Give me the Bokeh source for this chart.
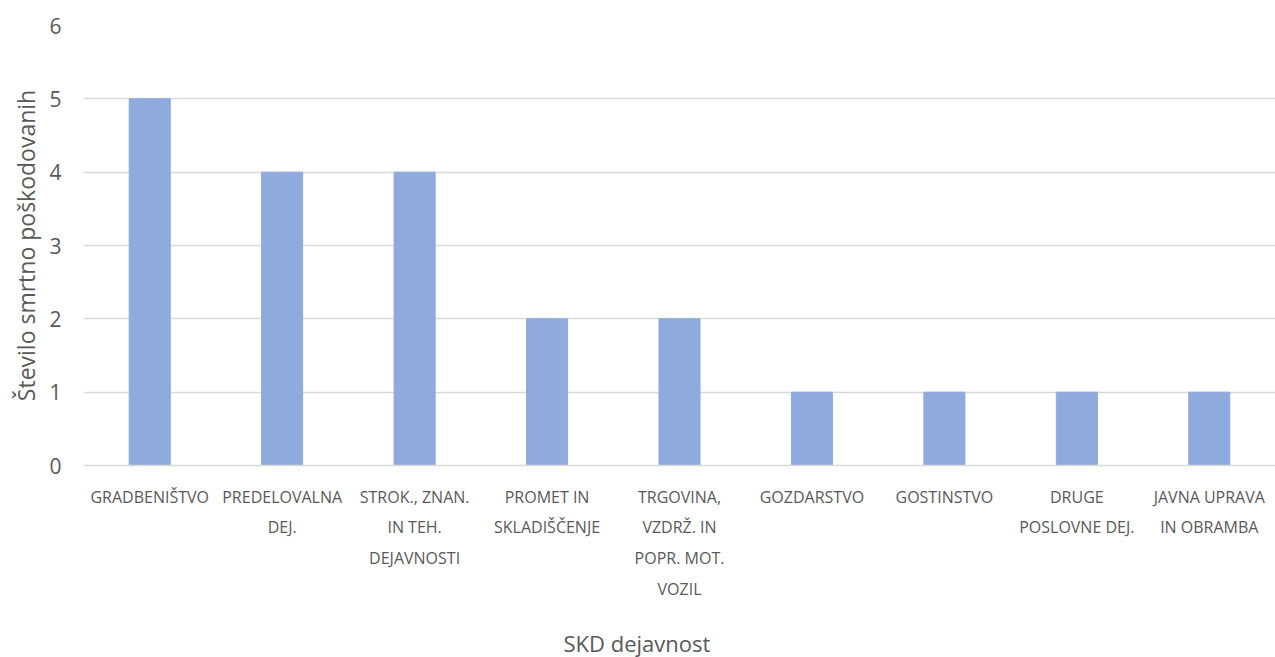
from bokeh.plotting import figure
from bokeh.models import Title, FixedTicker
from bokeh.embed import file_html
from bokeh.resources import INLINE

categories = ["GRADBENIŠTVO", "PREDELOVALNA\nDEJ.", "STROK., ZNAN.\nIN TEH.\nDEJAVNOSTI",
              "PROMET IN\nSKLADIŠČENJE", "TRGOVINA,\nVZDRŽ. IN\nPOPR. MOT.\nVOZIL",
              "GOZDARSTVO", "GOSTINSTVO", "DRUGE\nPOSLOVNE DEJ.", "JAVNA UPRAVA\nIN OBRAMBA"]
values = [5, 4, 4, 2, 2, 1, 1, 1, 1]
y_ticks = [0, 1, 2, 3, 4, 5, 6]

GREY = "#595959"
FONT = "Open Sans"

p = figure(x_range=categories, y_range=(0, 6), width=1275, height=657,
           output_backend="svg", toolbar_location=None,
           min_border_left=83, min_border_right=0, min_border_top=25, min_border_bottom=192)
p.outline_line_color = None
p.vbar(x=categories, top=values, width=0.31, color="#8FAADC")

p.xgrid.grid_line_color = None
p.ygrid.grid_line_color = "#D9D9D9"
p.ygrid.grid_line_width = 1.3
p.yaxis.ticker = FixedTicker(ticks=y_ticks)
p.yaxis.axis_line_color = None
p.yaxis.major_tick_line_color = None
p.yaxis.minor_tick_line_color = None
p.yaxis.major_label_text_font = FONT
p.yaxis.major_label_text_font_size = "21px"
p.yaxis.major_label_text_color = GREY
p.yaxis.major_label_standoff = 16
p.yaxis.axis_label = "Število smrtno poškodovanih"
p.yaxis.axis_label_text_font = FONT
p.yaxis.axis_label_text_font_size = "23px"
p.yaxis.axis_label_text_font_style = "normal"
p.yaxis.axis_label_text_color = GREY
p.yaxis.axis_label_standoff = 4

p.xaxis.axis_line_color = "#D9D9D9"
p.xaxis.axis_line_width = 1.3
p.xaxis.major_tick_line_color = None
p.xaxis.minor_tick_line_color = None
p.xaxis.major_label_text_font = FONT
p.xaxis.major_label_text_font_size = "16px"
p.xaxis.major_label_text_color = GREY
p.xaxis.major_label_text_line_height = 1.4
p.xaxis.major_label_standoff = 14

spacer = Title(text=" ", standoff=20, text_font_size="1px")
p.add_layout(spacer, "below")
title = Title(text="SKD dejavnost", align="left", offset=480, standoff=0,
              vertical_align="bottom",
              text_font=FONT, text_font_size="22px", text_color=GREY,
              text_font_style="normal")
p.add_layout(title, "below")

open("out.html", "w").write(file_html(p, INLINE))
